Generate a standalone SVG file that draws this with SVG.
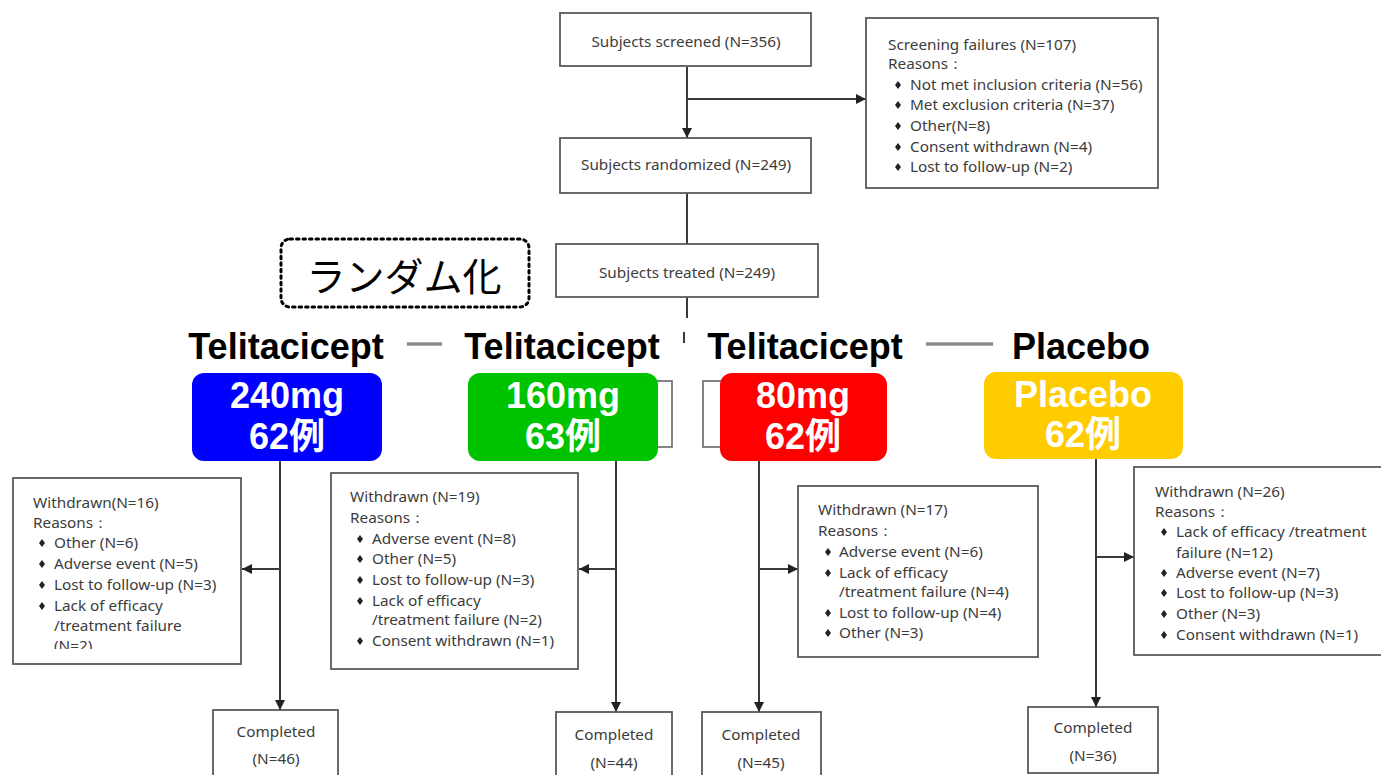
<svg xmlns="http://www.w3.org/2000/svg" width="1381" height="775" viewBox="0 0 1381 775">
<style>
.box{fill:#fff;stroke:#5a5a5a;stroke-width:1.8}
.t{font-family:"Noto Sans","Liberation Sans",sans-serif;font-size:15.3px;fill:#3c3c3c}
.c{text-anchor:middle}
.ln{stroke:#3a3a3a;stroke-width:2;fill:none}
.lbl{font-family:"Liberation Sans",Arial,sans-serif;font-weight:bold;font-size:36px;fill:#000;text-anchor:middle}
.arm{font-family:"Liberation Sans","Noto Sans CJK JP",sans-serif;font-weight:bold;font-size:36px;fill:#fff;text-anchor:middle}
.dash{stroke:#8a8a8a;stroke-width:3.5}
</style>
<defs>
<marker id="ah" markerUnits="userSpaceOnUse" markerWidth="10" markerHeight="10" refX="10" refY="5" orient="auto">
<path d="M0,0 L10,5 L0,10 z" fill="#222"/>
</marker>
<polygon id="dm" points="0,-4 3,0 0,4 -3,0" fill="#222"/>
<clipPath id="clip16"><rect x="13" y="478" width="228" height="171"/></clipPath>
</defs>

<g id="connectors">
<line class="ln" x1="687" y1="67" x2="687" y2="138" marker-end="url(#ah)"/>
<line class="ln" x1="687" y1="99" x2="866" y2="99" marker-end="url(#ah)"/>
<line class="ln" x1="687" y1="193" x2="687" y2="244"/>
<line class="ln" x1="687" y1="297" x2="687" y2="318"/>
<line class="ln" x1="684" y1="332" x2="684" y2="343" stroke="#999"/>
<line class="ln" x1="280" y1="461" x2="280" y2="710" marker-end="url(#ah)"/>
<line class="ln" x1="280" y1="569" x2="242" y2="569" marker-end="url(#ah)"/>
<line class="ln" x1="616" y1="461" x2="616" y2="712" marker-end="url(#ah)"/>
<line class="ln" x1="616" y1="569" x2="579" y2="569" marker-end="url(#ah)"/>
<line class="ln" x1="759" y1="461" x2="759" y2="712" marker-end="url(#ah)"/>
<line class="ln" x1="759" y1="569" x2="798" y2="569" marker-end="url(#ah)"/>
<line class="ln" x1="1096" y1="459" x2="1096" y2="707" marker-end="url(#ah)"/>
<line class="ln" x1="1096" y1="557" x2="1134" y2="557" marker-end="url(#ah)"/>
<line class="dash" x1="407" y1="344" x2="442" y2="344"/>
<line class="dash" x1="926" y1="344" x2="993" y2="344"/>
</g>

<g id="screened">
<rect class="box" x="560" y="13" width="251" height="53"/>
<text class="t c" x="686" y="47">Subjects screened (N=356)</text>
</g>

<g id="failures">
<rect class="box" x="866" y="18" width="292" height="170"/>
<text class="t" x="888" y="50">Screening failures (N=107)</text>
<text class="t" x="888" y="69">Reasons：</text>
<use href="#dm" x="898" y="85"/><text class="t" x="910" y="90">Not met inclusion criteria (N=56)</text>
<use href="#dm" x="898" y="105"/><text class="t" x="910" y="110">Met exclusion criteria (N=37)</text>
<use href="#dm" x="898" y="126"/><text class="t" x="910" y="131">Other(N=8)</text>
<use href="#dm" x="898" y="147"/><text class="t" x="910" y="152">Consent withdrawn (N=4)</text>
<use href="#dm" x="898" y="167"/><text class="t" x="910" y="172">Lost to follow-up (N=2)</text>
</g>

<g id="randomized">
<rect class="box" x="560" y="138" width="251" height="55"/>
<text class="t c" x="686" y="170">Subjects randomized (N=249)</text>
</g>

<g id="treated">
<rect class="box" x="556" y="244" width="262" height="53"/>
<text class="t c" x="687" y="278">Subjects treated (N=249)</text>
</g>

<g id="randomize-label">
<rect x="281" y="239" width="248" height="68" rx="9" fill="#fff" stroke="#000" stroke-width="3" stroke-dasharray="2.5,4" stroke-linecap="round"/>
<text x="404" y="291" font-family="'Noto Sans CJK JP',sans-serif" font-size="39" fill="#000" text-anchor="middle">ランダム化</text>
</g>

<g id="hidden-boxes">
<rect x="600" y="381" width="72" height="66" fill="#fff" stroke="#777" stroke-width="1.8"/>
<rect x="703" y="381" width="80" height="66" fill="#fff" stroke="#777" stroke-width="1.8"/>
</g>

<g id="arm-labels">
<text class="lbl" x="286" y="359">Telitacicept</text>
<text class="lbl" x="562" y="359">Telitacicept</text>
<text class="lbl" x="805" y="359">Telitacicept</text>
<text class="lbl" x="1081" y="359">Placebo</text>
</g>

<g id="arm240">
<rect x="192" y="373" width="190" height="88" rx="12" fill="#0000ff"/>
<text class="arm" x="287" y="408">240mg</text>
<text class="arm" x="287" y="449">62例</text>
</g>
<g id="arm160">
<rect x="468" y="373" width="190" height="88" rx="12" fill="#00c300"/>
<text class="arm" x="563" y="408">160mg</text>
<text class="arm" x="563" y="449">63例</text>
</g>
<g id="arm80">
<rect x="720" y="373" width="167" height="88" rx="12" fill="#ff0000"/>
<text class="arm" x="803" y="408">80mg</text>
<text class="arm" x="803" y="449">62例</text>
</g>
<g id="armPlacebo">
<rect x="984" y="372" width="199" height="87" rx="12" fill="#ffcc00"/>
<text class="arm" x="1083" y="407">Placebo</text>
<text class="arm" x="1083" y="447">62例</text>
</g>

<g id="withdrawn16">
<rect class="box" x="13" y="478" width="228" height="186"/>
<g clip-path="url(#clip16)">
<text class="t" x="33" y="508">Withdrawn(N=16)</text>
<text class="t" x="33" y="528">Reasons：</text>
<use href="#dm" x="42" y="543"/><text class="t" x="54" y="548">Other (N=6)</text>
<use href="#dm" x="42" y="564"/><text class="t" x="54" y="569">Adverse event (N=5)</text>
<use href="#dm" x="42" y="585"/><text class="t" x="54" y="590">Lost to follow-up (N=3)</text>
<use href="#dm" x="42" y="606"/><text class="t" x="54" y="611">Lack of efficacy</text>
<text class="t" x="54" y="631">/treatment failure</text>
<text class="t" x="54" y="651">(N=2)</text>
</g>
</g>

<g id="withdrawn19">
<rect class="box" x="331" y="473" width="247" height="196"/>
<text class="t" x="350" y="502">Withdrawn (N=19)</text>
<text class="t" x="350" y="523">Reasons：</text>
<use href="#dm" x="360" y="539"/><text class="t" x="372" y="544">Adverse event (N=8)</text>
<use href="#dm" x="360" y="559"/><text class="t" x="372" y="564">Other (N=5)</text>
<use href="#dm" x="360" y="580"/><text class="t" x="372" y="585">Lost to follow-up (N=3)</text>
<use href="#dm" x="360" y="601"/><text class="t" x="372" y="606">Lack of efficacy</text>
<text class="t" x="372" y="625">/treatment failure (N=2)</text>
<use href="#dm" x="360" y="641"/><text class="t" x="372" y="646">Consent withdrawn (N=1)</text>
</g>

<g id="withdrawn17">
<rect class="box" x="798" y="486" width="240" height="171"/>
<text class="t" x="818" y="515">Withdrawn (N=17)</text>
<text class="t" x="818" y="536">Reasons：</text>
<use href="#dm" x="828" y="552"/><text class="t" x="839" y="557">Adverse event (N=6)</text>
<use href="#dm" x="828" y="573"/><text class="t" x="839" y="578">Lack of efficacy</text>
<text class="t" x="839" y="597">/treatment failure (N=4)</text>
<use href="#dm" x="828" y="613"/><text class="t" x="839" y="618">Lost to follow-up (N=4)</text>
<use href="#dm" x="828" y="633"/><text class="t" x="839" y="638">Other (N=3)</text>
</g>

<g id="withdrawn26">
<rect class="box" x="1134" y="467" width="260" height="188"/>
<text class="t" x="1155" y="497">Withdrawn (N=26)</text>
<text class="t" x="1155" y="517">Reasons：</text>
<use href="#dm" x="1164" y="532"/><text class="t" x="1176" y="537">Lack of efficacy /treatment</text>
<text class="t" x="1176" y="558">failure (N=12)</text>
<use href="#dm" x="1164" y="573"/><text class="t" x="1176" y="578">Adverse event (N=7)</text>
<use href="#dm" x="1164" y="593"/><text class="t" x="1176" y="598">Lost to follow-up (N=3)</text>
<use href="#dm" x="1164" y="614"/><text class="t" x="1176" y="619">Other (N=3)</text>
<use href="#dm" x="1164" y="635"/><text class="t" x="1176" y="640">Consent withdrawn (N=1)</text>
</g>

<g id="completed46">
<rect class="box" x="213" y="710" width="125" height="75"/>
<text class="t c" x="276" y="737">Completed</text>
<text class="t c" x="276" y="764">(N=46)</text>
</g>
<g id="completed44">
<rect class="box" x="556" y="712" width="116" height="73"/>
<text class="t c" x="614" y="740">Completed</text>
<text class="t c" x="614" y="768">(N=44)</text>
</g>
<g id="completed45">
<rect class="box" x="702" y="712" width="119" height="73"/>
<text class="t c" x="761" y="740">Completed</text>
<text class="t c" x="761" y="768">(N=45)</text>
</g>
<g id="completed36">
<rect class="box" x="1028" y="707" width="130" height="66"/>
<text class="t c" x="1093" y="733">Completed</text>
<text class="t c" x="1093" y="761">(N=36)</text>
</g>
</svg>
